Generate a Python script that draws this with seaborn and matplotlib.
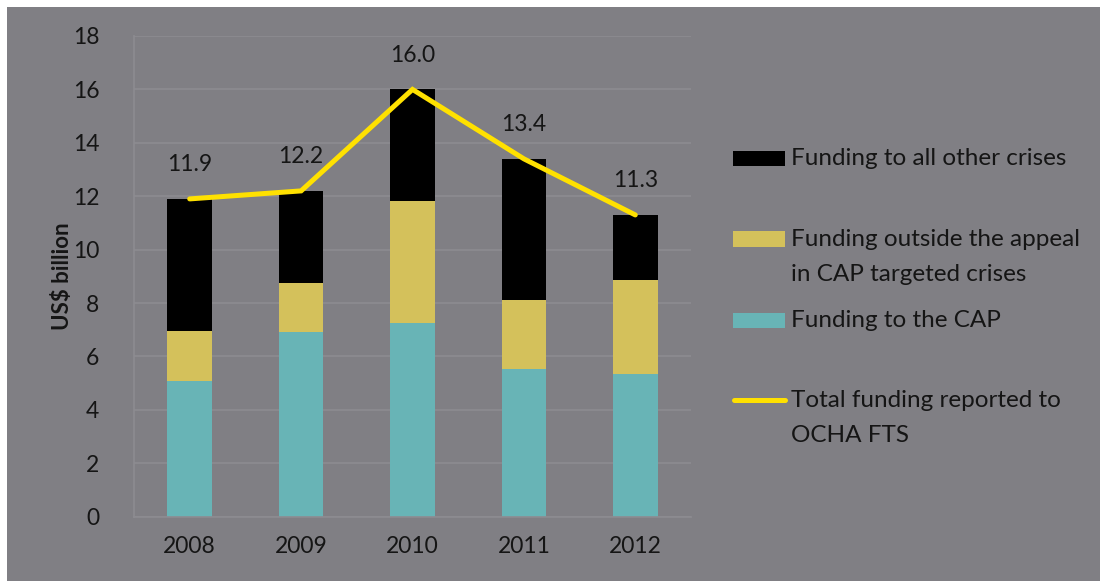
import matplotlib
matplotlib.use("Agg")
import matplotlib.pyplot as plt
import seaborn as sns
import pandas as pd
from matplotlib.patches import Rectangle
from matplotlib.lines import Line2D

# values (US$ billion)
years = ["2008", "2009", "2010", "2011", "2012"]
cap = [5.1, 6.93, 7.24, 5.54, 5.35]
outside = [1.85, 1.81, 4.57, 2.59, 3.5]
other = [4.95, 3.46, 4.19, 5.27, 2.45]
total = [11.9, 12.2, 16.0, 13.4, 11.3]

labels = ["Funding to all other crises",
          "Funding outside the appeal\nin CAP targeted crises",
          "Funding to the CAP",
          "Total funding reported to\nOCHA FTS"]

BG = "#807f84"
GRID = "#8d8c91"
TXT = "#151515"
C_OTHER = "#000000"
C_OUT = "#d4c15b"
C_CAP = "#68b4b6"
C_LINE = "#ffe100"

sns.set_style("white")
plt.rcParams["font.family"] = ["Lato", "DejaVu Sans"]

df = pd.DataFrame({"year": years, "cap": cap, "outside": outside, "other": other})
df["top_out"] = df["cap"] + df["outside"]
df["top_other"] = df["top_out"] + df["other"]

W, H = 1100, 581
fig = plt.figure(figsize=(11, 5.81), dpi=100)
fig.patch.set_facecolor("white")
fig.add_artist(Rectangle((7 / W, 0), 1 - 7 / W, 1 - 7 / H, transform=fig.transFigure,
                         facecolor=BG, edgecolor="none", zorder=0))

ax = fig.add_axes([134 / W, 1 - 516.7 / H, 557 / W, 480.7 / H])
ax.set_facecolor(BG)
ax.patch.set_alpha(0)

# stacked bars drawn as overlapping cumulative heights
bar_kw = dict(width=0.4, saturation=1, linewidth=0, ax=ax, zorder=2)
sns.barplot(data=df, x="year", y="top_other", color=C_OTHER, **bar_kw)
sns.barplot(data=df, x="year", y="top_out", color=C_OUT, **bar_kw)
sns.barplot(data=df, x="year", y="cap", color=C_CAP, **bar_kw)

sns.lineplot(x=list(range(len(years))), y=total, color=C_LINE, linewidth=3.6,
             solid_capstyle="round", solid_joinstyle="miter", ax=ax, zorder=3)

for i, v in enumerate(total):
    ax.annotate(f"{v:.1f}", (i, v), xytext=(0, 24.5), textcoords="offset points",
                ha="center", va="center", fontsize=16.5, color=TXT)

ax.set_ylim(0, 18)
ax.set_xlim(-0.5, len(years) - 0.5)
ax.set_yticks(range(0, 19, 2))
ax.yaxis.grid(True, color=GRID, linewidth=1.2)
ax.set_axisbelow(True)
for s in ["top", "right"]:
    ax.spines[s].set_visible(False)
for s in ["left", "bottom"]:
    ax.spines[s].set_color(GRID)
    ax.spines[s].set_linewidth(1.2)
ax.tick_params(axis="y", length=7, color=GRID, width=1.2, pad=18, labelsize=16.5, labelcolor=TXT)
ax.tick_params(axis="x", which="major", length=0, pad=14, labelsize=16.5, labelcolor=TXT)
ax.set_xticks([i - 0.5 for i in range(len(years) + 1)], minor=True)
ax.tick_params(axis="x", which="minor", length=8, color=GRID, width=1.2)
ax.set_xlabel("")
ax.set_ylabel("US$ billion", fontsize=16, fontweight="bold", color=TXT, labelpad=0)

# legend, laid out like the original (text top-aligned to each key)
handle_y = [158, 239, 320, 400]
for k, (lab, y) in enumerate(zip(labels, handle_y)):
    if k < 3:
        col = [C_OTHER, C_OUT, C_CAP][k]
        fig.add_artist(Rectangle((733 / W, 1 - (y + 7.5) / H), 52 / W, 15 / H,
                                 transform=fig.transFigure, facecolor=col, edgecolor="none"))
    else:
        fig.add_artist(Line2D([734 / W, 785 / W], [1 - y / H, 1 - y / H], transform=fig.transFigure,
                              color=C_LINE, linewidth=3.6, solid_capstyle="round"))
    fig.text(791 / W, 1 - (y - 10) / H, lab, ha="left", va="top", fontsize=17.5,
             color=TXT, linespacing=1.8)

fig.savefig("out.png", dpi=100, facecolor="white")
